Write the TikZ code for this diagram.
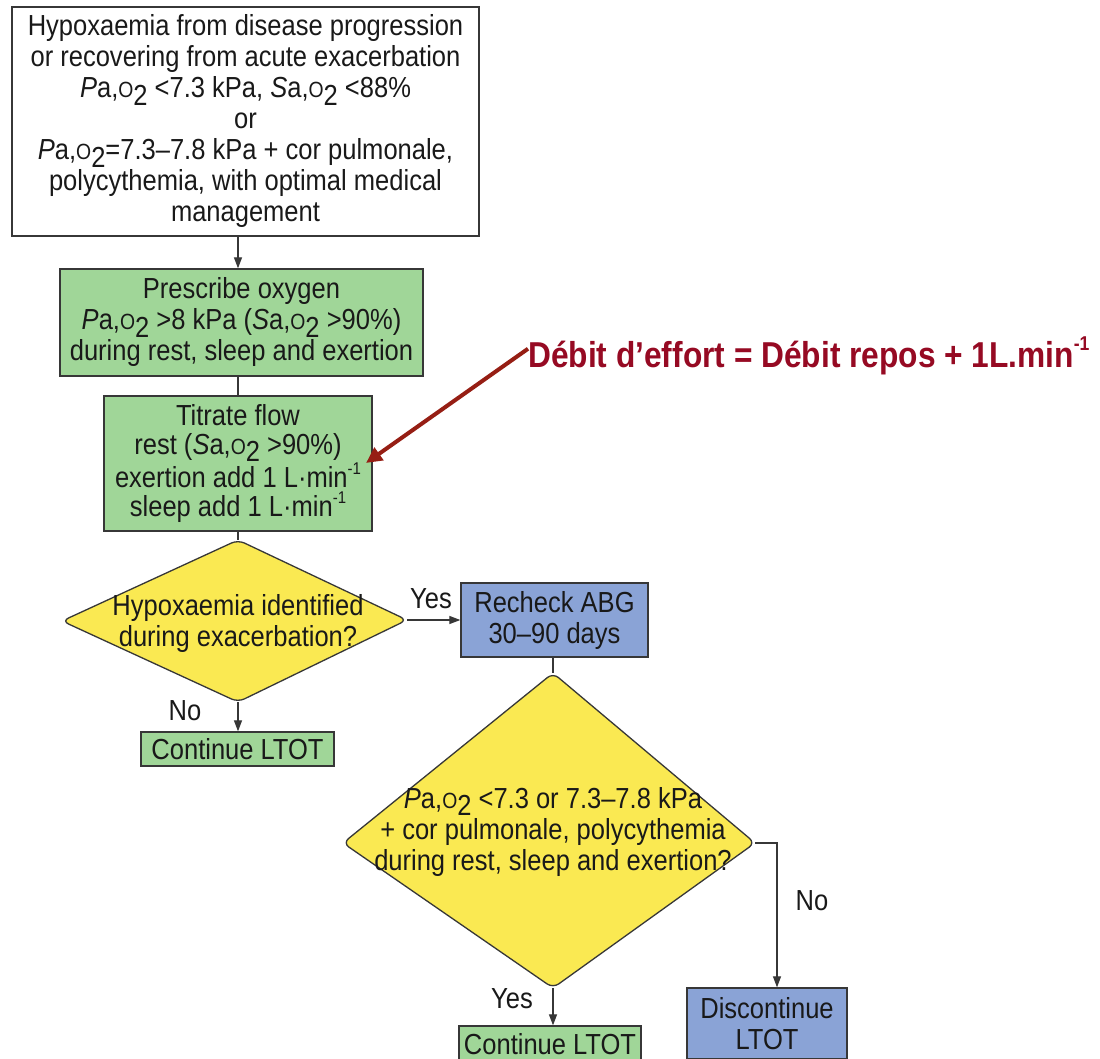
\documentclass[tikz,border=0pt]{standalone}
\usepackage{fontspec}
\setmainfont{Liberation Sans}[FakeStretch=0.88]
\usetikzlibrary{arrows.meta}
\definecolor{gfill}{RGB}{160,214,152}
\definecolor{bfill}{RGB}{138,163,214}
\definecolor{yfill}{RGB}{250,233,82}
\definecolor{edge}{RGB}{55,55,55}
\definecolor{txt}{RGB}{25,25,25}
\definecolor{redtxt}{RGB}{150,10,35}
\definecolor{redarrow}{RGB}{150,30,20}
\newcommand\gs[1]{\textit{#1}a,{\fontsize{22}{22}\selectfont O}\raisebox{-0.25em}{2}}
\newcommand\inv{\raisebox{0.45em}{\fontsize{17}{17}\selectfont -1}}
\begin{document}
\begin{tikzpicture}[x=1pt,y=-1pt,
  box/.style={draw=edge, line width=1.3pt, align=center, inner sep=0pt, text=txt,
    font=\fontsize{29}{31}\selectfont},
  gbox/.style={box, fill=gfill},
  bbox/.style={box, fill=bfill},
  dia/.style={draw=edge, line width=1.3pt, fill=yfill, rounded corners=7pt},
  dtext/.style={align=center, inner sep=0pt, text=txt, font=\fontsize{29}{31}\selectfont},
  lbl/.style={inner sep=0pt, text=txt, font=\fontsize{29}{31}\selectfont},
  ln/.style={draw=edge, line width=1.2pt},
  arr/.style={ln, -{Triangle[length=11pt,width=8pt]}},
  redarr/.style={draw=redarrow, line width=4pt, -{Triangle[length=16pt,width=15pt]}}
]
\useasboundingbox (0,0) rectangle (1100,1059);
\clip (0,0) rectangle (1100,1059);
\fill[white] (0,0) rectangle (1100,1059);

\coordinate (ax) at (238,0);

% boxes
\node[box, fill=white, minimum width=467pt, minimum height=229pt] (top) at (245.5,121.5)
  {Hypoxaemia from disease progression\\or recovering from acute exacerbation\\
   \gs{P} <7.3 kPa, \gs{S} <88\%\\or\\
   \gs{P}=7.3–7.8 kPa + cor pulmonale,\\polycythemia, with optimal medical\\management};
\node[gbox, minimum width=363pt, minimum height=107pt] (ps) at (241.5,322.5)
  {Prescribe oxygen\\\gs{P} >8 kPa (\gs{S} >90\%)\\during rest, sleep and exertion};
\node[gbox, minimum width=268pt, minimum height=135pt, font=\fontsize{29}{29.5}\selectfont] (tit) at (238,463.5)
  {Titrate flow\\rest (\gs{S} >90\%)\\exertion add 1 L·min\inv\\sleep add 1 L·min\inv};

% diamond 1
\coordinate (d1t) at (238,540);
\coordinate (d1r) at (407,620);
\coordinate (d1b) at (238,702);
\coordinate (d1l) at (62,621);
\draw[dia] (d1t) -- (d1r) -- (d1b) -- (d1l) -- cycle;
\node[dtext] (d1txt) at (238,623) {Hypoxaemia identified\\during exacerbation?};

\node[bbox, minimum width=187pt, minimum height=74pt] (rb) at (554.5,620)
  {Recheck ABG\\30–90 days};
\node[gbox, minimum width=193pt, minimum height=34pt] (c1) at (237.5,749) {Continue LTOT};

% diamond 2
\coordinate (d2t) at (553,673);
\coordinate (d2r) at (755,843);
\coordinate (d2b) at (553,988);
\coordinate (d2l) at (343,843);
\draw[dia] (d2t) -- (d2r) -- (d2b) -- (d2l) -- cycle;
\node[dtext] (d2txt) at (553,832)
  {\gs{P} <7.3 or 7.3–7.8 kPa\\+ cor pulmonale, polycythemia\\during rest, sleep and exertion?};

\node[bbox, minimum width=160pt, minimum height=71pt] (disc) at (767,1023.5) {Discontinue\\LTOT};
\node[gbox, minimum width=182pt, minimum height=36pt] (c2) at (550,1044) {Continue LTOT};

% connectors
\draw[arr] (top.south -| ax) -- (ps.north -| ax);
\draw[ln] (ps.south -| ax) -- (tit.north -| ax);
\draw[ln] (tit.south -| ax) -- (d1t);
\draw[arr] (d1r) -- (rb.west);
\draw[arr] (d1b) -- (c1.north -| d1b);
\draw[ln] (rb.south -| d2t) -- (d2t);
\coordinate (elbow) at (777,843);
\draw[arr] (d2r) -- (elbow) -- (disc.north -| elbow);
\draw[arr] (d2b) -- (c2.north -| d2b);

% labels
\node[lbl] (yes1) at (431,599) {Yes};
\node[lbl] (no1) at (185,711) {No};
\node[lbl] (no2) at (812,901) {No};
\node[lbl] (yes2) at (512,999) {Yes};

% red annotation
\node[anchor=base west, inner sep=0pt, text=redtxt, font=\bfseries\fontsize{36}{36}\selectfont] (red) at (528,367)
  {Débit d’effort = Débit repos + 1L.min\raisebox{0.45em}{\fontsize{20}{20}\selectfont -1}};
\coordinate (tip) at (366,463);
\draw[redarr] ([yshift=7pt]red.west) -- (tip);
\end{tikzpicture}
\end{document}
